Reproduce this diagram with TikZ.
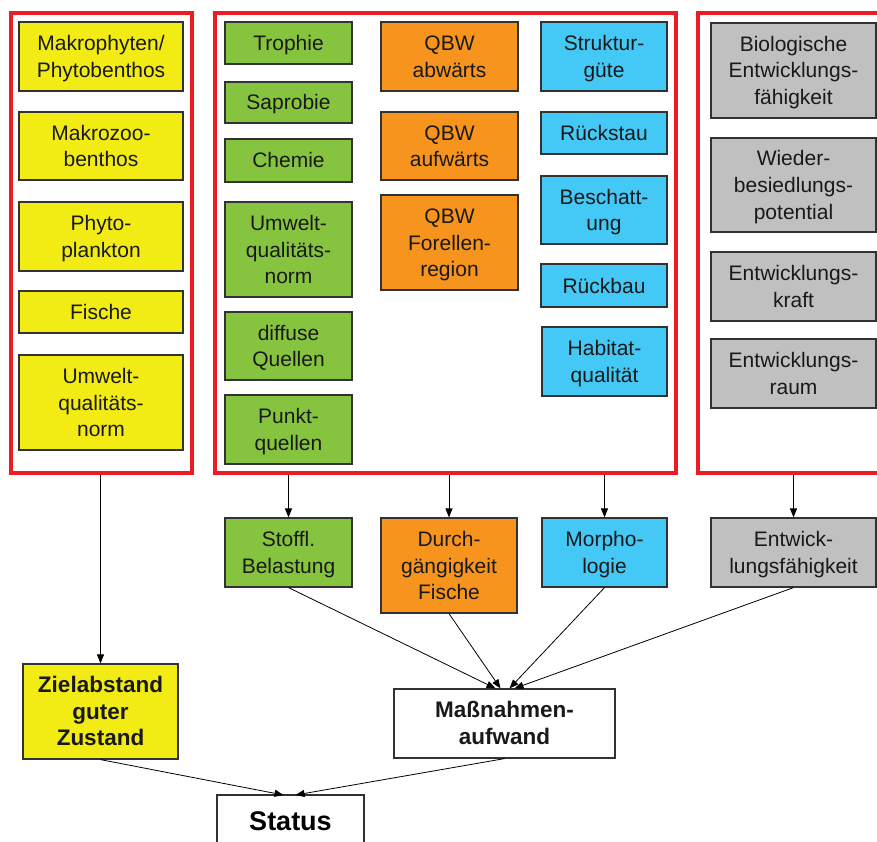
\documentclass[tikz,border=0pt]{standalone}
\usepackage{fontspec}
\setmainfont{Liberation Sans}
\usetikzlibrary{arrows.meta}
\definecolor{cyellow}{RGB}{242,236,20}
\definecolor{cgreen}{RGB}{134,196,64}
\definecolor{corange}{RGB}{247,148,29}
\definecolor{cblue}{RGB}{68,200,245}
\definecolor{cgray}{RGB}{192,192,192}
\definecolor{cred}{RGB}{237,28,36}
\definecolor{cborder}{RGB}{50,50,50}
\newcommand{\bxfont}{\fontsize{21}{26.5}\selectfont}
\newcommand{\bbfont}{\fontsize{22.5}{26.5}\selectfont\bfseries}
\newcommand{\tst}{\rule{0pt}{21pt}}
\tikzset{
  box/.style={rectangle, draw=cborder, line width=1.2pt, align=center, inner sep=0pt, font=\bxfont, text=black!90,
    execute at end node={\rule[-6pt]{0pt}{6pt}}},
  ybox/.style={box, fill=cyellow},
  gbox/.style={box, fill=cgreen},
  obox/.style={box, fill=corange},
  bbox/.style={box, fill=cblue},
  rbox/.style={box, fill=cgray},
  wbox/.style={box, fill=white, font=\bbfont},
  frame/.style={rectangle, draw=cred, line width=4.5pt, outer sep=0pt},
  arr/.style={draw=black, line width=0.8pt, -{Triangle[length=9pt,width=7pt]}}
}
\begin{document}
\begin{tikzpicture}[x=1pt,y=-1pt]
\useasboundingbox (0,0) rectangle (877,842);
% frames
\node[frame, minimum width=181pt, minimum height=460pt] (f1) at (101.5,243) {};
\node[frame, minimum width=461pt, minimum height=460pt] (f2) at (445.5,243) {};
\node[rectangle, draw=none, outer sep=0pt, minimum width=179pt, minimum height=460pt] (f3) at (787.5,243) {};
\draw[cred, line width=4.5pt] (f3.north east) -- (f3.north west) -- (f3.south west) -- (f3.south east);
% yellow column
\node[ybox, minimum width=164pt, minimum height=69pt] (y1) at (101,56.5) {\tst Makrophyten/\\Phytobenthos};
\node[ybox, minimum width=164pt, minimum height=68pt] (y2) at (101,146) {\tst Makrozoo-\\benthos};
\node[ybox, minimum width=164pt, minimum height=69pt] (y3) at (101,236.5) {\tst Phyto-\\plankton};
\node[ybox, minimum width=164pt, minimum height=42pt] (y4) at (101,312) {\tst Fische};
\node[ybox, minimum width=164pt, minimum height=95pt] (y5) at (101,402.5) {\tst Umwelt-\\qualitäts-\\norm};
% green column
\node[gbox, minimum width=127pt, minimum height=42pt] (g1) at (288.5,43) {\tst Trophie};
\node[gbox, minimum width=127pt, minimum height=41pt] (g2) at (288.5,102.5) {\tst Saprobie};
\node[gbox, minimum width=127pt, minimum height=43pt] (g3) at (288.5,160.5) {\tst Chemie};
\node[gbox, minimum width=127pt, minimum height=95pt] (g4) at (288.5,249.5) {\tst Umwelt-\\qualitäts-\\norm};
\node[gbox, minimum width=127pt, minimum height=68pt] (g5) at (288.5,346) {\tst diffuse\\Quellen};
\node[gbox, minimum width=127pt, minimum height=69pt] (g6) at (288.5,429.5) {\tst Punkt-\\quellen};
% orange column
\node[obox, minimum width=137pt, minimum height=69pt] (o1) at (449.5,56.5) {\tst QBW\\abwärts};
\node[obox, minimum width=137pt, minimum height=68pt] (o2) at (449.5,146) {\tst QBW\\aufwärts};
\node[obox, minimum width=137pt, minimum height=95pt] (o3) at (449.5,242.5) {\tst QBW\\Forellen-\\region};
% blue column
\node[bbox, minimum width=126pt, minimum height=69pt] (b1) at (604,56.5) {\tst Struktur-\\güte};
\node[bbox, minimum width=126pt, minimum height=42pt] (b2) at (604,133) {\tst Rückstau};
\node[bbox, minimum width=126pt, minimum height=68pt] (b3) at (604,210) {\tst Beschatt-\\ung};
\node[bbox, minimum width=126pt, minimum height=43pt] (b4) at (604,285.5) {\tst Rückbau};
\node[bbox, minimum width=125pt, minimum height=69pt] (b5) at (604.5,361.5) {\tst Habitat-\\qualität};
% gray column
\node[rbox, minimum width=165pt, minimum height=95pt] (r1) at (793.5,70.5) {\tst Biologische\\Entwicklungs-\\fähigkeit};
\node[rbox, minimum width=165pt, minimum height=94pt] (r2) at (793.5,185) {\tst Wieder-\\besiedlungs-\\potential};
\node[rbox, minimum width=165pt, minimum height=69pt] (r3) at (793.5,286.5) {\tst Entwicklungs-\\kraft};
\node[rbox, minimum width=165pt, minimum height=69pt] (r4) at (793.5,373.5) {\tst Entwicklungs-\\raum};
% second level
\node[gbox, minimum width=127pt, minimum height=69pt] (s1) at (288.5,552.5) {\tst Stoffl.\\Belastung};
\node[obox, minimum width=136pt, minimum height=95pt] (s2) at (449,565.5) {\tst Durch-\\gängigkeit\\Fische};
\node[bbox, minimum width=125pt, minimum height=69pt] (s3) at (604.5,552.5) {\tst Morpho-\\logie};
\node[rbox, minimum width=165pt, minimum height=69pt] (s4) at (793.5,552.5) {\tst Entwick-\\lungsfähigkeit};
% third level
\node[ybox, font=\bbfont, minimum width=155pt, minimum height=95pt] (z) at (100.5,711.5) {\tst Zielabstand\\guter\\Zustand};
\node[wbox, minimum width=221pt, minimum height=69pt] (mn) at (504.5,723.5) {\tst Maßnahmen-\\aufwand};
\node[rectangle, fill=white, inner sep=0pt, outer sep=0pt, minimum width=147pt, minimum height=47pt,
  font=\fontsize{27}{30}\selectfont\bfseries,
  execute at end node={\rule[-4pt]{0pt}{4pt}}] (st) at (290.5,818.5) {\rule{0pt}{27pt}Status};
\draw[cborder, line width=1.2pt] (st.south west) -- (st.north west) -- (st.north east) -- (st.south east);
% connectors from frames
\coordinate (c1) at (z.north |- f1.south);
\coordinate (c2) at (s1.north |- f2.south);
\coordinate (c3) at (s2.north |- f2.south);
\coordinate (c4) at (s3.north |- f2.south);
\coordinate (c5) at (s4.north |- f3.south);
\draw[arr] ([yshift=-2.25pt]c1) -- (z.north);
\draw[arr] ([yshift=-2.25pt]c2) -- (s1.north);
\draw[arr] ([yshift=-2.25pt]c3) -- (s2.north);
\draw[arr] ([yshift=-2.25pt]c4) -- (s3.north);
\draw[arr] ([yshift=-2.25pt]c5) -- (s4.north);
% connectors to Massnahmen
\draw[arr] (s1.south) -- ([xshift=-9pt]mn.north);
\draw[arr] (s2.south) -- ([xshift=-4pt]mn.north);
\draw[arr] (s3.south) -- ([xshift=5pt]mn.north);
\draw[arr] (s4.south) -- ([xshift=10pt]mn.north);
% connectors to Status
\draw[arr] (z.south) -- ([xshift=-7pt]st.north);
\draw[arr] (mn.south) -- ([xshift=5pt]st.north);
\end{tikzpicture}
\end{document}
